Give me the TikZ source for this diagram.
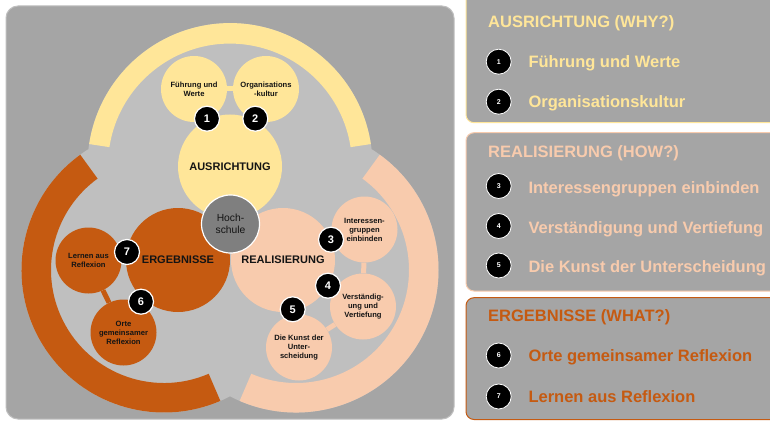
\documentclass[tikz,border=0pt]{standalone}
\usepackage{fontspec}
\setmainfont{Liberation Sans}
\definecolor{panelgray}{HTML}{A5A5A5}
\definecolor{lightg}{HTML}{BFBFBF}
\definecolor{ylw}{HTML}{FFE699}
\definecolor{pch}{HTML}{F8CBAD}
\definecolor{org}{HTML}{C55A11}
\definecolor{hsgray}{HTML}{7F7F7F}
\definecolor{txt}{HTML}{141414}
\pgfdeclarelayer{back}
\pgfdeclarelayer{bars}
\pgfsetlayers{back,bars,main}
\begin{document}
\begin{tikzpicture}[x=1pt,y=1pt,
  big/.style={circle, minimum size=104pt, inner sep=0pt, font=\fontsize{11}{13}\selectfont\bfseries, text=txt},
  small/.style={circle, minimum size=66pt, inner sep=0pt, align=center, font=\fontsize{7.6}{9}\selectfont\bfseries, text=txt},
  badge/.style={circle, fill=black, draw=white, line width=1.2pt, minimum size=25pt, inner sep=0pt, text=white, font=\fontsize{11}{11}\selectfont\bfseries},
  rbadge/.style={circle, fill=black, draw=white, line width=0.8pt, minimum size=25pt, inner sep=0pt, text=white, font=\fontsize{7}{7}\selectfont\bfseries},
  bar/.style={line width=5pt},
  item/.style={anchor=base west, inner sep=0pt, font=\fontsize{16.5}{18}\selectfont\bfseries},
  rpanel/.style={fill=panelgray, line width=1pt, rounded corners=8pt}
]
\useasboundingbox (0,0) rectangle (770,421);
\begin{pgfonlayer}{back}
\fill[white] (0,0) rectangle (770,421);
\draw[fill=panelgray, draw=lightg, line width=1pt, rounded corners=12pt] (6,2) rectangle (454,415);
\begin{scope}
\clip (0,0) rectangle (770,421);
\draw[rpanel, draw=ylw] (466,298.3) rectangle (800,440);
\draw[rpanel, draw=pch] (466,130) rectangle (800,288.3);
\draw[rpanel, draw=org] (466,1.5) rectangle (800,123.3);
\end{scope}
\fill[lightg] (230,255.4) circle[radius=142.5] (164,151) circle[radius=142.5] (296,151) circle[radius=142.5];
\fill[ylw, shift={(230,255.4)}] (8.7:142.5) arc[start angle=8.7, end angle=171.3, radius=142.5] -- (171.3:122) arc[start angle=171.3, end angle=8.7, radius=122] -- cycle;
\fill[org, shift={(164,151)}] (126:142.5) arc[start angle=126, end angle=293.3, radius=142.5] -- (293.3:113) arc[start angle=293.3, end angle=126, radius=113] -- cycle;
\fill[pch, shift={(296,151)}] (-113.3:142.5) arc[start angle=-113.3, end angle=54, radius=142.5] -- (54:113) arc[start angle=54, end angle=-113.3, radius=113] -- cycle;
\end{pgfonlayer}

% big circles
\node[big, fill=ylw] (aus) at (230,254.5) {AUSRICHTUNG};
\node[big, fill=org] (erg) at (178,161) {ERGEBNISSE};
\node[big, fill=pch] (rea) at (283,161) {REALISIERUNG};

% small circles
\node[small, fill=ylw] (fw) at (194,332) {Führung und\\Werte};
\node[small, fill=ylw] (ok) at (266,332) {Organisations\\-kultur};
\node[small, fill=org] (lr) at (88.5,160.5) {Lernen aus\\Reflexion};
\node[small, fill=org] (og) at (123.5,88.5) {Orte\\gemeinsamer\\Reflexion};
\node[small, fill=pch] (ig) at (364.5,191.5) {Interessen-\\gruppen\\einbinden};
\node[small, fill=pch] (vv) at (363,114.5) {Verständig-\\ung und\\Vertiefung};
\node[small, fill=pch] (ku) at (299,73.5) {Die Kunst der\\Unter-\\scheidung};

\begin{pgfonlayer}{bars}
\draw[bar, ylw] (fw) -- (ok);
\draw[bar, org] (lr) -- (og);
\draw[bar, pch] (ig) -- (vv);
\draw[bar, pch] (vv) -- (ku);
\end{pgfonlayer}

% centre
\node[circle, fill=hsgray, draw=white, line width=1.2pt, minimum size=58pt, inner sep=0pt, align=center, font=\fontsize{10.3}{11.5}\selectfont, text=txt] (hs) at (230.5,197) {Hoch-\\schule};

% badges
\node[badge] (b1) at (207,302.3) {1};
\node[badge] (b2) at (255.3,302.3) {2};
\node[badge] (b3) at (331,181.3) {3};
\node[badge] (b4) at (328,135.3) {4};
\node[badge] (b5) at (292.7,111.7) {5};
\node[badge] (b6) at (141,119.3) {6};
\node[badge] (b7) at (127,169) {7};

% right panels
\node[item, text=ylw] (h1) at (488,393.4) {AUSRICHTUNG (WHY?)};
\node[rbadge] (r1) at (498.7,359.3) {1};
\node[item, text=ylw] (t1) at (528.3,353.4) {Führung und Werte};
\node[rbadge] (r2) at (498.7,319.3) {2};
\node[item, text=ylw] (t2) at (528.3,313.4) {Organisationskultur};

\node[item, text=pch] (h2) at (488,263.4) {REALISIERUNG (HOW?)};
\node[rbadge] (r3) at (498.7,235) {3};
\node[item, text=pch] (t3) at (528.3,227.8) {Interessengruppen einbinden};
\node[rbadge] (r4) at (498.7,195) {4};
\node[item, text=pch] (t4) at (528.3,187.8) {Verständigung und Vertiefung};
\node[rbadge] (r5) at (498.7,155.5) {5};
\node[item, text=pch] (t5) at (528.3,148.4) {Die Kunst der Unterscheidung};

\node[item, text=org] (h3) at (488,99.1) {ERGEBNISSE (WHAT?)};
\node[rbadge] (r6) at (498.7,65.5) {6};
\node[item, text=org] (t6) at (528.3,59.1) {Orte gemeinsamer Reflexion};
\node[rbadge] (r7) at (498.7,24.5) {7};
\node[item, text=org] (t7) at (528.3,18.4) {Lernen aus Reflexion};
\end{tikzpicture}
\end{document}
